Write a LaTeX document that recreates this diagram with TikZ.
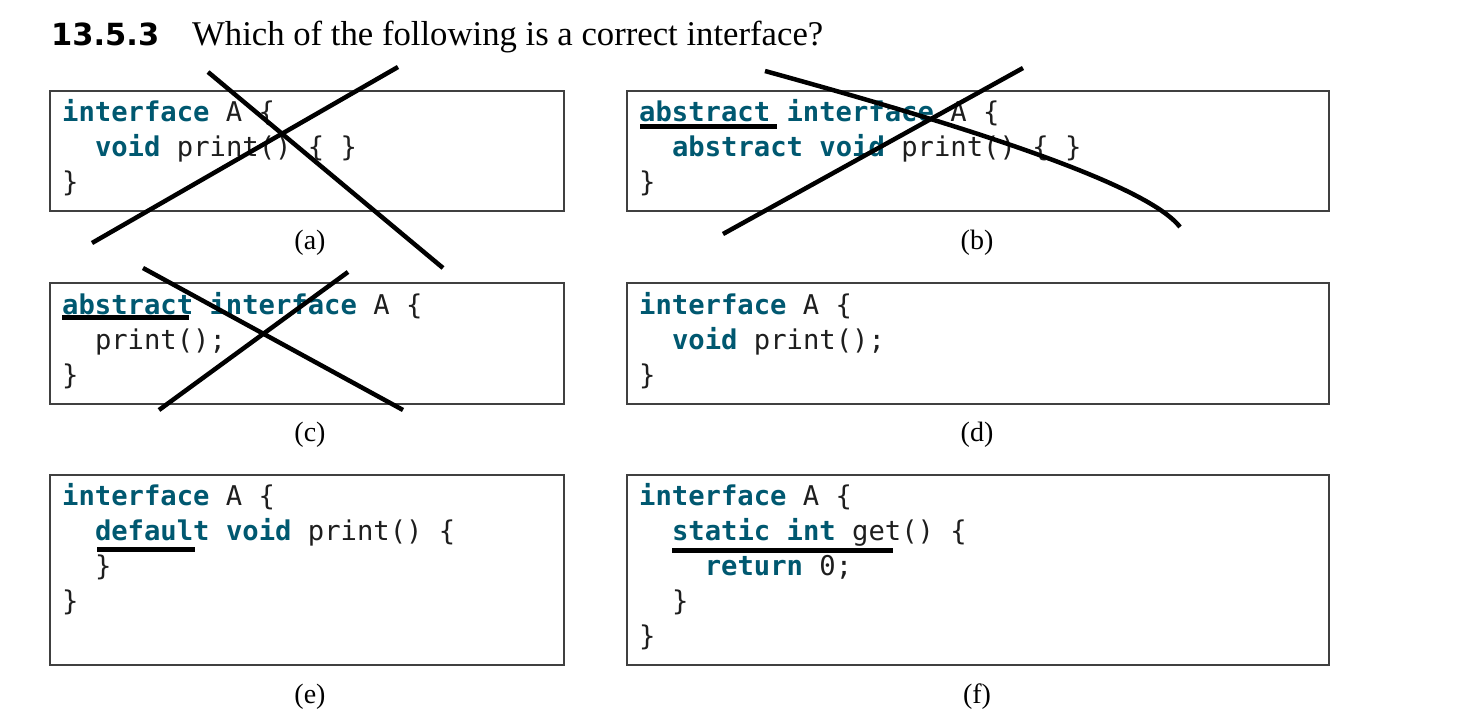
\documentclass[tikz,border=0pt]{standalone}
\usepackage{fontspec}
\setmainfont{Liberation Serif}
\newfontfamily\codefont{DejaVu Sans Mono}
\newfontfamily\numfont{DejaVu Sans}
\definecolor{keyword}{RGB}{0,88,112}
\definecolor{codetext}{RGB}{30,30,30}
\newcommand\kwd[1]{{\bfseries\color{keyword}#1}}
\tikzset{
  box/.style={draw=black!75,line width=1.3pt},
  code/.style={anchor=base west,inner sep=0pt,text=codetext,
    font=\codefont\fontsize{27.2}{35}\selectfont},
  caption/.style={font=\fontsize{28}{30}\selectfont},
  strike/.style={line width=4.5pt},
  uline/.style={line width=5pt}
}
\begin{document}
\begin{tikzpicture}[x=1pt,y=-1pt]
\useasboundingbox (0,0) rectangle (1484,726);
% title
\node[anchor=base west,inner sep=0pt,font=\numfont\bfseries\fontsize{30.5}{32}\selectfont] (num) at (51,45) {13.5.3};
\node[anchor=base west,inner sep=0pt,font=\fontsize{34.7}{36}\selectfont] (question) at (192,45) {Which of the following is a correct interface?};
% boxes
\draw[box] (50,91) rectangle (564,211);
\draw[box] (627,91) rectangle (1329,211);
\draw[box] (50,283) rectangle (564,404);
\draw[box] (627,283) rectangle (1329,404);
\draw[box] (50,475) rectangle (564,665);
\draw[box] (627,475) rectangle (1329,665);
% (a)
\node[code] (a1) at (62,121) {\kwd{interface} A \{};
\node[code] (a2) at (94.8,156) {\kwd{void} print() \{ \}};
\node[code] (a3) at (62,191) {\}};
% (b)
\node[code] (b1) at (639,121) {\kwd{abstract} \kwd{interface} A \{};
\node[code] (b2) at (671.8,156) {\kwd{abstract} \kwd{void} print() \{ \}};
\node[code] (b3) at (639,191) {\}};
% (c)
\node[code] (c1) at (62,314) {\kwd{abstract} \kwd{interface} A \{};
\node[code] (c2) at (94.8,349) {print();};
\node[code] (c3) at (62,384) {\}};
% (d)
\node[code] (d1) at (639,314) {\kwd{interface} A \{};
\node[code] (d2) at (671.8,349) {\kwd{void} print();};
\node[code] (d3) at (639,384) {\}};
% (e)
\node[code] (e1) at (62,505) {\kwd{interface} A \{};
\node[code] (e2) at (94.8,540) {\kwd{default} \kwd{void} print() \{};
\node[code] (e3) at (94.8,575) {\}};
\node[code] (e4) at (62,610) {\}};
% (f)
\node[code] (f1) at (639,505) {\kwd{interface} A \{};
\node[code] (f2) at (671.8,540) {\kwd{static} \kwd{int} get() \{};
\node[code] (f3) at (704.6,575) {\kwd{return} 0;};
\node[code] (f4) at (671.8,610) {\}};
\node[code] (f5) at (639,645) {\}};
% captions
\node[caption] (capa) at (310,243) {(a)};
\node[caption] (capb) at (977,243) {(b)};
\node[caption] (capc) at (310,435) {(c)};
\node[caption] (capd) at (977,435) {(d)};
\node[caption] (cape) at (310,697) {(e)};
\node[caption] (capf) at (977,697) {(f)};
% crossings out
\draw[strike] (208,72) -- (443,268);
\draw[strike] (92,243) -- (398,67);
\draw[strike] (723,234) -- (1023,68);
\draw[strike] (765,71) .. controls (950,122) and (1145,182) .. (1180,227);
\draw[strike] (143,268) -- (403,410);
\draw[strike] (159,410) -- (348,272);
% underlines
\draw[uline] (640,126) -- (777,126);
\draw[uline] (62,317) -- (189,317);
\draw[uline] (97,549) -- (195,549);
\draw[uline] (672,550) -- (893,550);
\end{tikzpicture}
\end{document}
